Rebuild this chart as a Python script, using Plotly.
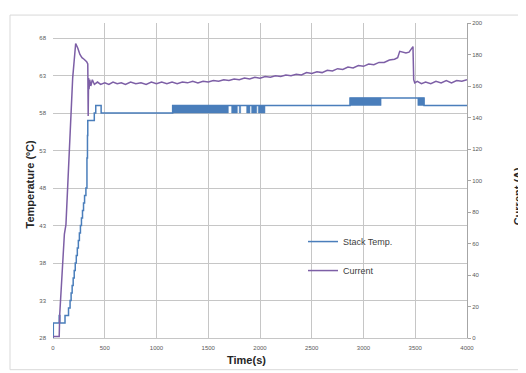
import plotly.graph_objects as go

# ---- data ----
cur_t = [0, 60, 65, 90, 110, 125, 140, 150, 165, 190, 219, 240, 260, 280, 300, 325, 336, 340, 344, 348,
         355, 365, 380, 400, 430, 460, 500, 540, 580, 620, 660, 700, 750, 800, 850, 900, 950, 1000, 1050,
         1100, 1150, 1200, 1250, 1300, 1350, 1400, 1450, 1500, 1550, 1600, 1650, 1700, 1750, 1800, 1850,
         1900, 1950, 2000, 2050, 2100, 2150, 2200, 2250, 2300, 2350, 2400, 2450, 2500, 2550, 2600, 2650,
         2700, 2750, 2800, 2850, 2900, 2950, 3000, 3050, 3100, 3150, 3200, 3250, 3300, 3330, 3350, 3380,
         3410, 3440, 3465, 3478, 3485, 3495, 3520, 3560, 3600, 3650, 3700, 3750, 3800, 3850, 3900, 3950, 4000]
cur_a = [1, 1, 15, 40, 66, 72, 95, 110, 131, 165, 187, 184, 180, 178, 177, 175.5, 174, 141, 165, 158,
         164, 160, 164, 161, 162.5, 161, 162, 161, 162.5, 161.5, 162, 161, 162.5, 161.5, 162, 161, 162.5, 161.5, 162.5,
         161.5, 162.5, 161.5, 162.5, 162, 163, 162, 163, 162.5, 163.5, 163, 164, 163.5, 164.5, 164, 165,
         164.5, 165.5, 165, 166, 165.5, 166.5, 166, 167, 166.5, 167.5, 167, 168.5, 168, 169, 168.5, 170,
         169.5, 171, 170.5, 172, 171.5, 173, 172.5, 174, 173.5, 175, 175, 176.5, 177, 178, 182, 181.5,
         181, 181.5, 184, 185, 164, 162, 163, 161.5, 162.5, 161.5, 163, 162, 163.5, 162, 163.5, 163, 164]

temp_t = [0, 3, 60, 66, 116, 150, 165, 175, 185, 195, 205, 215, 225, 235, 245, 255, 265, 275, 285, 295,
          305, 318, 328, 333, 336, 399, 413, 465, 1156, 2870, 3585, 4000]
temp_v = [28, 30, 31, 30, 31, 32, 33, 34, 35, 36, 37, 38, 39, 40, 41, 42, 43, 44, 45, 46,
          47, 48, 52, 55, 57, 58, 59, 58, 59, 60, 59, 59]

# sensor toggling bands (start, end, low, high)
band_t0 = [1156, 1726, 1800, 1871, 1919, 1984, 2870, 3525]
band_t1 = [1694, 1781, 1813, 1903, 1968, 2048, 3170, 3585]
band_lo = [58, 58, 58, 58, 58, 58, 59, 59]
band_hi = [59, 59, 59, 59, 59, 59, 60, 60]

x_ticks = [0, 500, 1000, 1500, 2000, 2500, 3000, 3500, 4000]

BLUE = "#4a7ebb"
PURPLE = "#7d5fa6"
GRID = "#c6c6c6"
TXT = "#595959"
FONT = "Liberation Sans"

fig = go.Figure()

for a, b, lo, hi in zip(band_t0, band_t1, band_lo, band_hi):
    fig.add_trace(go.Scatter(x=[a, a, b, b, a], y=[lo, hi, hi, lo, lo], mode="lines",
                             fill="toself", fillcolor=BLUE, line=dict(color=BLUE, width=0.5),
                             showlegend=False, hoverinfo="skip", yaxis="y"))

fig.add_trace(go.Scatter(x=temp_t, y=temp_v, mode="lines", name="Stack Temp.",
                         line=dict(color=BLUE, width=1.5, shape="hv"), yaxis="y",
                         legendgroup="a"))
fig.add_trace(go.Scatter(x=cur_t, y=cur_a, mode="lines", name="Current",
                         line=dict(color=PURPLE, width=1.5), yaxis="y2",
                         legendgroup="b"))

# page body has an 8px margin; compensate so the plot sits where the reference has it
PH = 318.0  # plot height px
PW = 414.0  # plot width px

def px_x(x):
    return (x - 53) / PW

def px_y(y):
    return (338 - y) / PH

fig.update_layout(
    width=518, height=365,
    margin=dict(l=45, r=59, t=12, b=35),
    paper_bgcolor="white", plot_bgcolor="white",
    font=dict(family=FONT, color=TXT, size=6),
    xaxis=dict(range=[0, 4000], tickvals=x_ticks, showgrid=True, gridcolor=GRID, gridwidth=1,
               zeroline=False, showline=True, linecolor=GRID, ticks="",
               tickfont=dict(size=6, color=TXT), ticklabelstandoff=4),
    yaxis=dict(range=[28, 70], tick0=28, dtick=5, showgrid=True, gridcolor=GRID, gridwidth=1,
               zeroline=False, showline=False, ticks="",
               tickfont=dict(size=6, color=TXT), ticklabelstandoff=6),
    yaxis2=dict(range=[0, 200], dtick=20, overlaying="y", side="right", showgrid=False,
                zeroline=False, showline=True, linecolor="#a6a6a6", ticks="outside",
                ticklen=3, tickcolor="#a6a6a6", tickfont=dict(size=6, color=TXT)),
    legend=dict(x=px_x(303), y=px_y(226), xanchor="left", yanchor="top",
                bgcolor="rgba(0,0,0,0)",
                font=dict(family=FONT, size=9, color="#404040"), tracegroupgap=10,
                itemwidth=30),
    showlegend=True,
    shapes=[
        dict(type="rect", xref="paper", yref="paper", x0=px_x(10), x1=px_x(560),
             y0=px_y(370), y1=px_y(12), line=dict(color="#d9d9d9", width=1), layer="below"),
        dict(type="rect", xref="paper", yref="paper", x0=px_x(313), x1=px_x(405),
             y0=px_y(295), y1=px_y(218), fillcolor="white", line=dict(width=0), layer="between"),
    ],
    annotations=[
        dict(text="<b>Temperature (ºC)</b>", xref="paper", yref="paper", x=px_x(30), y=px_y(183),
             xanchor="center", yanchor="middle",
             textangle=-90, showarrow=False, font=dict(family=FONT, size=11, color="#262626")),
        dict(text="<b>Time(s)</b>", xref="paper", yref="paper", x=px_x(246), y=px_y(360),
             xanchor="center", yanchor="middle",
             showarrow=False, font=dict(family=FONT, size=11, color="#262626")),
        dict(text="<b>Current (A)</b>", xref="paper", yref="paper", x=px_x(518), y=px_y(195),
             xanchor="center", yanchor="middle",
             textangle=-90, showarrow=False, font=dict(family=FONT, size=11, color="#262626")),
    ],
)

fig.write_html("out.html")
